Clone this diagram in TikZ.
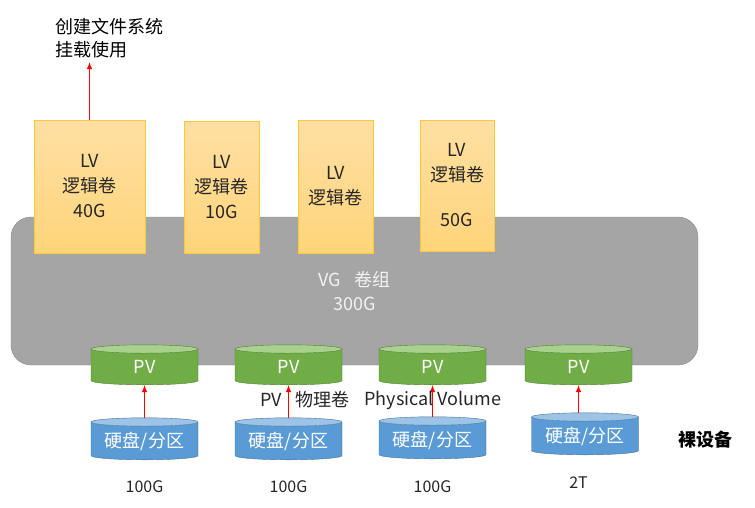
\documentclass[tikz,border=0pt]{standalone}
\usepackage{fontspec}
\setmainfont{Noto Sans CJK SC}
\usetikzlibrary{arrows.meta,positioning,shapes.geometric}
\definecolor{vgfill}{HTML}{A5A5A5}
\definecolor{vgedge}{HTML}{8C8C8C}
\definecolor{lvtop}{HTML}{FFE0A3}
\definecolor{lvbot}{HTML}{FFD47A}
\definecolor{lvedge}{HTML}{FFC937}
\definecolor{pvbody}{HTML}{70AD47}
\definecolor{pvend}{HTML}{A9D18E}
\definecolor{pvedge}{HTML}{507E32}
\definecolor{hdbody}{HTML}{5B9BD5}
\definecolor{hdend}{HTML}{9DC3E6}
\definecolor{hdedge}{HTML}{41719C}

\begin{document}
\begin{tikzpicture}[x=1pt,y=-1pt,font=\fontsize{18}{25}\selectfont,
  lv/.style={draw=lvedge,top color=lvtop,bottom color=lvbot,align=center,inner sep=0pt,text=black!85},
  vg/.style={draw=vgedge,fill=vgfill,rounded corners=20pt,align=center,text=white!95!black,
    font=\fontsize{18}{24}\selectfont},
  can/.style={cylinder,shape border rotate=90,aspect=0.1,minimum width=107pt,minimum height=40pt,
    text width=84pt,align=center,inner sep=0pt,cylinder uses custom fill,text=white},
  pv/.style={can,draw=pvedge,cylinder body fill=pvbody,cylinder end fill=pvend},
  hd/.style={can,minimum height=42pt,draw=hdedge,cylinder body fill=hdbody,cylinder end fill=hdend},
  up/.style={draw=red,line width=1.1pt,->},
  >={Latex[length=7pt,width=5.5pt]}]
\useasboundingbox (0,0) rectangle (755,507);
\node[vg,minimum width=687pt,minimum height=148pt] (vg) at (354.5,291) {VG\hspace{14pt}卷组\\300G};
% logical volumes
\node[lv,minimum width=111pt,minimum height=133pt] (lv1) at (89.5,186.5) {LV\\逻辑卷\\40G};
\node[lv,minimum width=75pt,minimum height=132pt] (lv2) at (221.5,187) {LV\\逻辑卷\\10G};
\node[lv,minimum width=75pt,minimum height=133pt] (lv3) at (335.5,186.5) {LV\\逻辑卷};
\node[lv,minimum width=74pt,minimum height=131pt] (lv4) at (457,185.5) {LV\\逻辑卷\\[20pt]50G};
\node[anchor=west,align=left,inner sep=0pt,font=\fontsize{18}{23}\selectfont] (fstxt) at (55,38.5) {创建文件系统\\挂载使用};
\coordinate (fsend) at (89.5,62);
\draw[up] (lv1.north) -- (fsend);
% physical volumes and disks
\foreach \i/\x/\hx/\hy/\sy/\sz in {1/144.5/144.5/441/487/100G,2/288.5/288.5/441/487/100G,
    3/432.5/432.5/440/487/100G,4/578.5/585/436/483/2T}{
  \node[pv] (pv\i) at (\x,367) {PV};
  \node[hd] (hd\i) at (\hx,\hy) {硬盘/分区};
  \node[font=\fontsize{16}{20}\selectfont,text=black!85] (sz\i) at (\x,\sy) {\sz};
}
\foreach \i in {1,...,4}
  \draw[up] (hd\i.north -| pv\i.south) -- (pv\i.south);
\node[text=black!85] (pvlbl) at (305,400) {PV\hspace{14pt}物理卷};
\node[text=black!85] (pvname) at (433,400) {Physical Volume};
\node[font=\fontsize{18}{25}\selectfont\bfseries] (raw) at (705,440) {裸设备};
\end{tikzpicture}
\end{document}
